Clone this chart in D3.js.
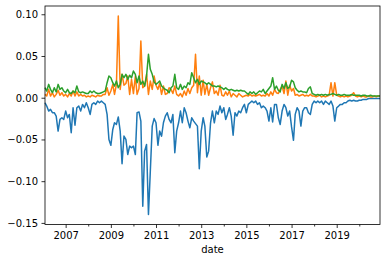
<!DOCTYPE html>
<html>
<head>
<meta charset="utf-8">
<script src="https://cdn.jsdelivr.net/npm/d3@7"></script>
<style>
  body { margin: 0; background: #fff; }
  svg { display: block; }
</style>
</head>
<body>
<svg id="chart" width="386" height="262"></svg>
<script>
// ---- data (monthly, Feb 2006 .. Dec 2020) ----
const startYear = 2006;
const startMonth = 2; // February

const seriesBlue = [
  -0.006, -0.010, -0.016, -0.014, -0.018, -0.018, -0.022, -0.040, -0.026, -0.024, -0.026,
  -0.016, -0.024, -0.020, -0.042, -0.012, -0.033, -0.012, -0.010, -0.016, -0.008, -0.012, -0.006,
  -0.012, -0.020, -0.008, -0.006, -0.008, -0.004, -0.006, -0.004, -0.006, -0.008, -0.020, -0.050,
  -0.057, -0.038, -0.030, -0.032, -0.023, -0.040, -0.079, -0.046, -0.050, -0.068, -0.058, -0.060,
  -0.058, -0.068, -0.018, -0.017, -0.028, -0.130, -0.064, -0.056, -0.140, -0.088, -0.034, -0.025,
  -0.030, -0.057, -0.040, -0.046, -0.030, -0.022, -0.018, -0.026, -0.030, -0.020, -0.066, -0.040,
  -0.030, -0.016, -0.030, -0.012, -0.018, -0.028, -0.036, -0.024, -0.028, -0.031, -0.034, -0.085,
  -0.040, -0.024, -0.034, -0.071, -0.064, -0.030, -0.016, -0.030, -0.016, -0.020, -0.010, -0.018,
  -0.012, -0.026, -0.020, -0.012, -0.022, -0.045, -0.018, -0.022, -0.016, -0.018, -0.012, -0.008,
  -0.018, -0.008, -0.006, -0.004, -0.006, -0.004, -0.008, -0.006, -0.012, -0.010, -0.012, -0.016,
  -0.028, -0.012, -0.029, -0.008, -0.008, -0.024, -0.032, -0.016, -0.008, -0.012, -0.022, -0.016,
  -0.035, -0.051, -0.020, -0.012, -0.016, -0.034, -0.016, -0.012, -0.012, -0.018, -0.020, -0.008,
  -0.004, -0.006, -0.004, -0.006, -0.004, -0.008, -0.004, -0.006, -0.008, -0.004, -0.010, -0.028,
  -0.012, -0.010, -0.008, -0.008, -0.006, -0.006, -0.004, -0.003, -0.004, -0.003, -0.004, -0.004,
  -0.003, -0.003, -0.002, -0.002, -0.002, -0.001, -0.001, -0.001, -0.001, -0.001, -0.001, -0.001
];

const seriesOrange = [
  0.004, 0.002, 0.010, 0.002, 0.006, 0.001, 0.004, 0.009, 0.003, 0.006, 0.002,
  0.004, 0.001, 0.005, 0.002, 0.008, 0.002, 0.007, 0.002, 0.004, 0.002, 0.003, 0.001,
  0.002, 0.001, 0.003, 0.002, 0.001, 0.003, 0.002, 0.002, 0.004, 0.004, 0.012, 0.003,
  0.008, 0.016, 0.004, 0.016, 0.098, 0.010, 0.028, 0.015, 0.017, 0.026, 0.004, 0.022,
  0.005, 0.026, 0.004, 0.011, 0.068, 0.012, 0.014, 0.028, 0.004, 0.020, 0.010, 0.026,
  0.015, 0.010, 0.017, 0.004, 0.014, 0.004, 0.005, 0.012, 0.010, 0.005, 0.014, 0.004,
  0.002, 0.005, 0.001, 0.008, 0.003, 0.011, 0.005, 0.012, 0.015, 0.052, 0.006, 0.026,
  0.003, 0.021, 0.004, 0.016, 0.003, 0.012, 0.019, 0.005, 0.008, 0.003, 0.015, 0.003,
  0.002, 0.007, 0.003, 0.008, 0.001, 0.005, 0.003, 0.001, 0.005, 0.003, 0.001, 0.002,
  0.003, 0.002, 0.004, 0.002, 0.003, 0.002, 0.003, 0.004, 0.002, 0.003, 0.002, 0.005,
  0.002, 0.007, 0.003, 0.010, 0.006, 0.005, 0.010, 0.014, 0.005, 0.020, 0.003, 0.015,
  0.008, 0.011, 0.003, 0.004, 0.002, 0.003, 0.004, 0.002, 0.003, 0.002, 0.004, 0.002,
  0.002, 0.001, 0.002, 0.003, 0.001, 0.002, 0.001, 0.002, 0.003, 0.018, 0.002, 0.018,
  0.003, 0.002, 0.001, 0.002, 0.001, 0.002, 0.001, 0.002, 0.003, 0.006, 0.002, 0.001,
  0.002, 0.001, 0.002, 0.001, 0.001, 0.002, 0.001, 0.001, 0.002, 0.001, 0.002, 0.002
];

const seriesGreen = [
  0.012, 0.008, 0.016, 0.010, 0.006, 0.012, 0.007, 0.016, 0.010, 0.012, 0.008,
  0.006, 0.010, 0.006, 0.005, 0.008, 0.006, 0.014, 0.007, 0.006, 0.007, 0.006, 0.005,
  0.005, 0.008, 0.006, 0.008, 0.006, 0.005, 0.005, 0.006, 0.007, 0.008, 0.018, 0.026,
  0.024, 0.018, 0.014, 0.020, 0.012, 0.016, 0.028, 0.024, 0.028, 0.022, 0.027, 0.024,
  0.032, 0.028, 0.018, 0.026, 0.016, 0.020, 0.014, 0.026, 0.052, 0.034, 0.028, 0.019,
  0.016, 0.018, 0.020, 0.014, 0.012, 0.010, 0.009, 0.006, 0.012, 0.014, 0.028, 0.012,
  0.010, 0.016, 0.010, 0.014, 0.012, 0.018, 0.016, 0.030, 0.024, 0.018, 0.022, 0.016,
  0.020, 0.019, 0.018, 0.016, 0.018, 0.016, 0.014, 0.014, 0.013, 0.014, 0.013, 0.012,
  0.010, 0.012, 0.010, 0.009, 0.010, 0.009, 0.008, 0.009, 0.008, 0.009, 0.008, 0.008,
  0.006, 0.004, 0.007, 0.005, 0.007, 0.004, 0.006, 0.008, 0.007, 0.010, 0.005, 0.008,
  0.011, 0.014, 0.024, 0.010, 0.014, 0.009, 0.007, 0.016, 0.011, 0.018, 0.011, 0.013,
  0.021, 0.019, 0.012, 0.009, 0.007, 0.008, 0.007, 0.007, 0.006, 0.011, 0.013, 0.005,
  0.004, 0.003, 0.004, 0.003, 0.004, 0.003, 0.004, 0.003, 0.004, 0.004, 0.005, 0.004,
  0.003, 0.004, 0.003, 0.003, 0.004, 0.003, 0.003, 0.003, 0.004, 0.003, 0.003, 0.003,
  0.003, 0.002, 0.003, 0.003, 0.002, 0.002, 0.003, 0.002, 0.002, 0.002, 0.002, 0.002
];

const seriesColors = ["#1f77b4", "#ff7f0e", "#2ca02c"];
const yTickValues = [-0.15, -0.10, -0.05, 0.00, 0.05, 0.10];
const xMajorYears = [2007, 2009, 2011, 2013, 2015, 2017, 2019];
const xMinorYears = [2006, 2008, 2010, 2012, 2014, 2016, 2018, 2020];
const xAxisLabel = "date";

// ---- layout ----
const W = 386, H = 262;
const plot = { left: 45, right: 380, top: 6, bottom: 224.5 };

const svg = d3.select("#chart");
const dates = seriesBlue.map((_, i) => new Date(startYear, startMonth - 1 + i, 1));

const x = d3.scaleTime()
  .domain([dates[0], dates[dates.length - 1]])
  .range([plot.left, plot.right]);

const allSeries = [seriesBlue, seriesOrange, seriesGreen];
const lo = d3.min(allSeries, s => d3.min(s));
const hi = d3.max(allSeries, s => d3.max(s));
const pad = (hi - lo) * 0.05;
const y = d3.scaleLinear()
  .domain([lo - pad, hi + pad])
  .range([plot.bottom, plot.top]);

const font = "'DejaVu Sans', sans-serif";

// lines
const line = d3.line()
  .x((d, i) => x(dates[i]))
  .y(d => y(d));

allSeries.forEach((s, k) => {
  svg.append("path")
    .datum(s)
    .attr("fill", "none")
    .attr("stroke", seriesColors[k])
    .attr("stroke-width", 1.5)
    .attr("stroke-linejoin", "round")
    .attr("d", line);
});

// x axis (major)
const xMajor = svg.append("g")
  .attr("transform", `translate(0,${plot.bottom})`)
  .call(d3.axisBottom(x)
    .tickValues(xMajorYears.map(yv => new Date(yv, 0, 1)))
    .tickFormat(d3.timeFormat("%Y"))
    .tickSize(3.5)
    .tickPadding(3.5));
xMajor.select(".domain").remove();

// x axis (minor)
const xMinor = svg.append("g")
  .attr("transform", `translate(0,${plot.bottom})`)
  .call(d3.axisBottom(x)
    .tickValues(xMinorYears.map(yv => new Date(yv, 0, 1)).filter(d => d >= x.domain()[0] && d <= x.domain()[1]))
    .tickFormat("")
    .tickSize(2));
xMinor.select(".domain").remove();

// y axis
const yAx = svg.append("g")
  .attr("transform", `translate(${plot.left},0)`)
  .call(d3.axisLeft(y)
    .tickValues(yTickValues)
    .tickFormat(d3.format(".2f"))
    .tickSize(3.5)
    .tickPadding(3.5));
yAx.select(".domain").remove();

svg.selectAll(".tick line").attr("stroke", "#000").attr("stroke-width", 0.8);
svg.selectAll(".tick text")
  .attr("fill", "#000")
  .style("font-family", font)
  .style("font-size", "10px");
yAx.selectAll(".tick text").attr("dy", "0.34em");
svg.selectAll("g").attr("font-family", null).attr("font-size", null);

// frame
svg.append("rect")
  .attr("x", plot.left)
  .attr("y", plot.top)
  .attr("width", plot.right - plot.left)
  .attr("height", plot.bottom - plot.top)
  .attr("fill", "none")
  .attr("stroke", "#000")
  .attr("stroke-width", 0.8);

// axis label
svg.append("text")
  .attr("x", (plot.left + plot.right) / 2)
  .attr("y", 253)
  .attr("text-anchor", "middle")
  .style("font-family", font)
  .style("font-size", "10px")
  .attr("fill", "#000")
  .text(xAxisLabel);
</script>
</body>
</html>
